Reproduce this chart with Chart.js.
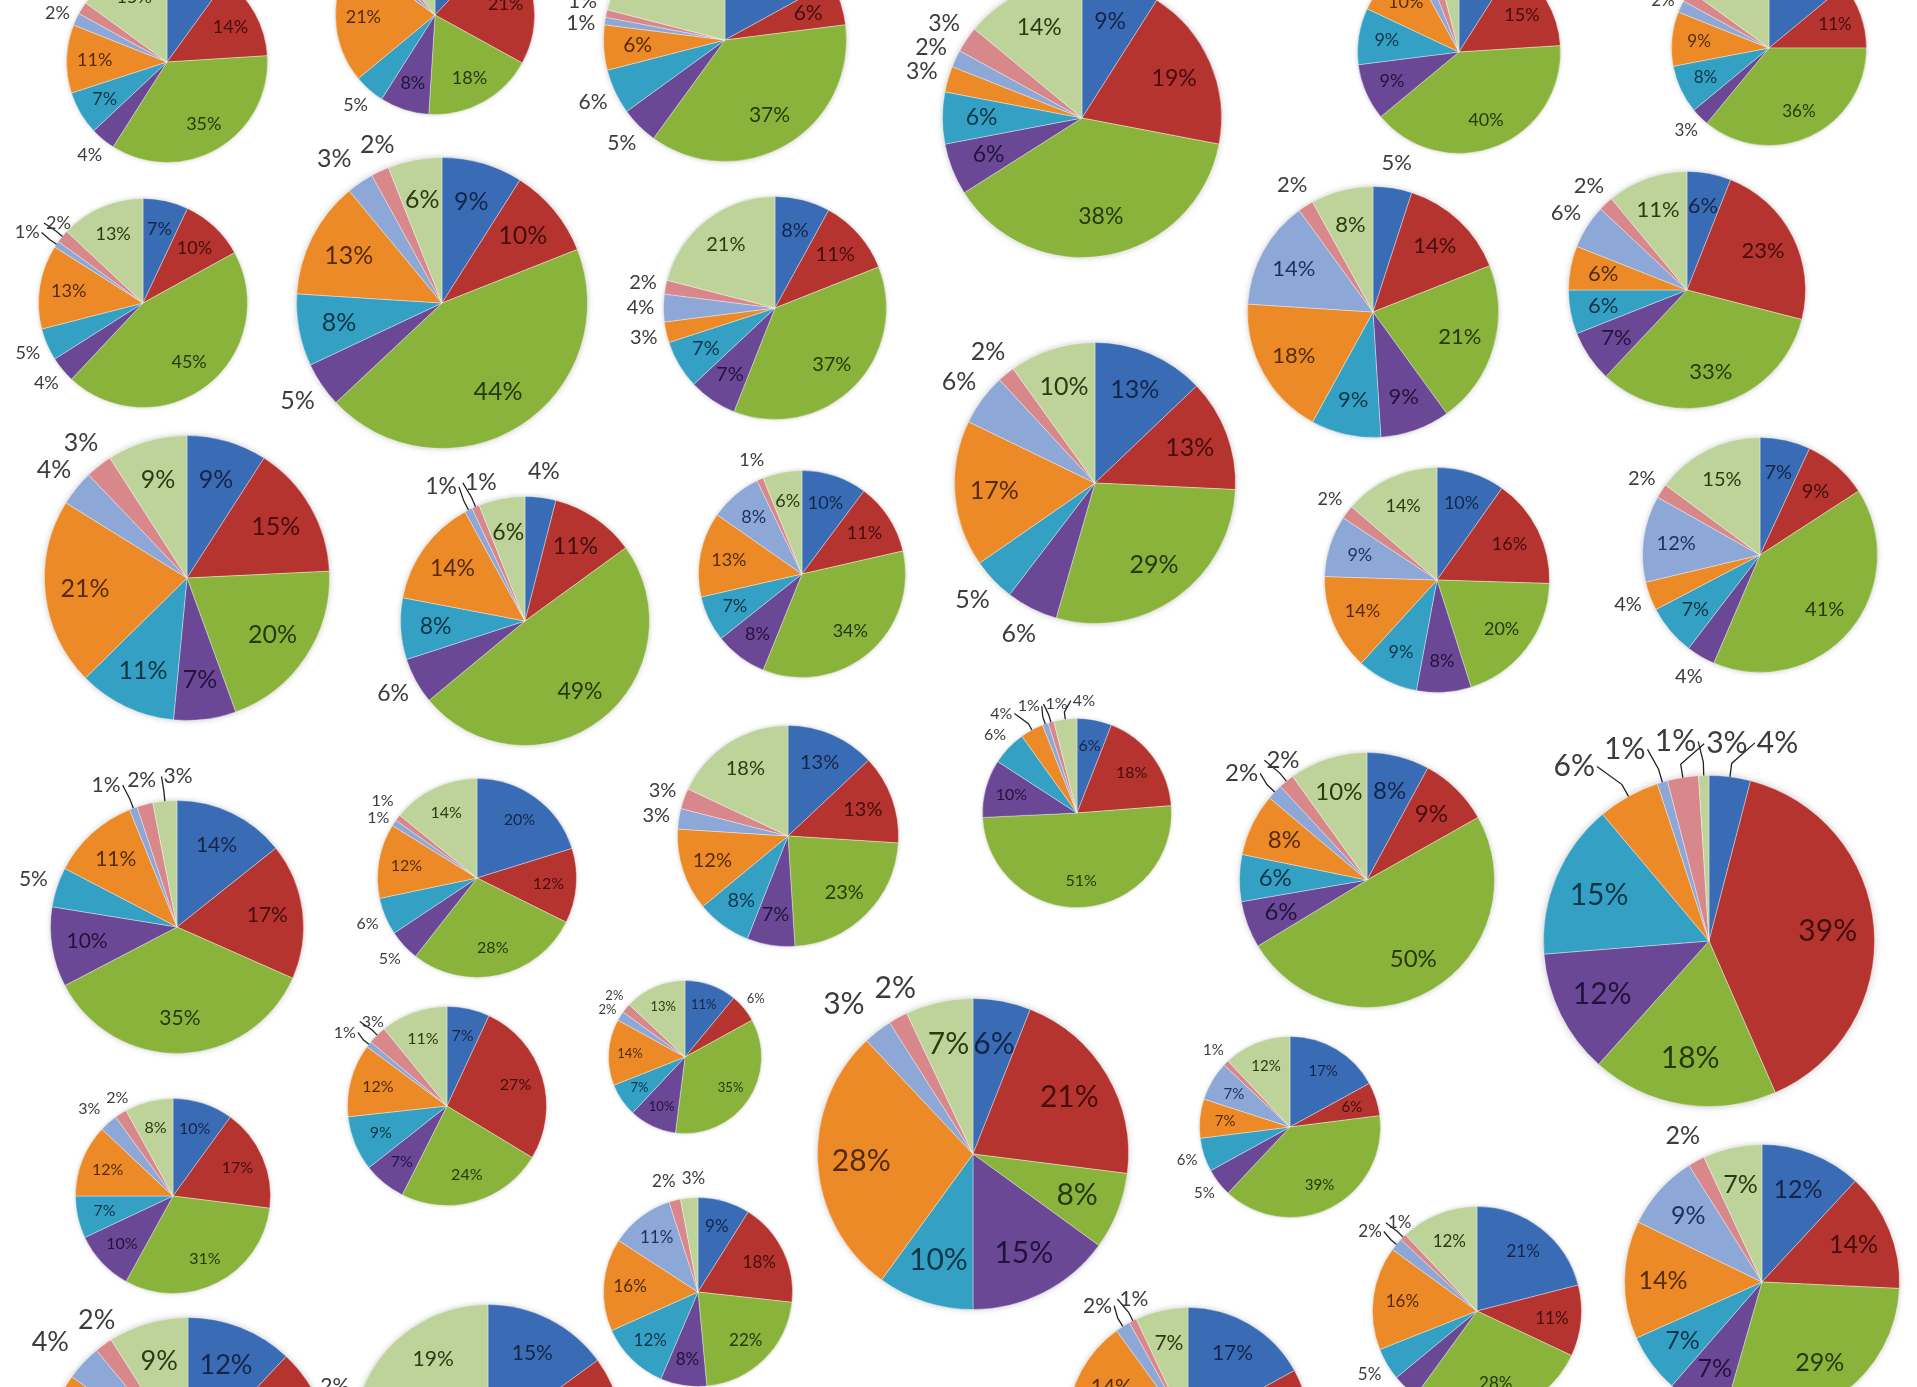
<!DOCTYPE html>
<html>
<head>
<meta charset="utf-8">
<script src="https://cdn.jsdelivr.net/npm/chart.js@4.4.0/dist/chart.umd.min.js"></script>
<style>
html, body { margin: 0; padding: 0; background: #fff; }
#board { position: relative; width: 1917px; height: 1387px; overflow: hidden; background: #fff; }
#board canvas { position: absolute; }
</style>
</head>
<body>
<div id="board"></div>
<script>
// slices, clockwise from 12 o'clock (same order in every pie)
const categories = ["Blue", "Red", "Green", "Purple", "Teal", "Orange", "Light blue", "Pink", "Light green"];

// shares in %, roughly row by row
const p01 = [10, 14, 35, 4, 7, 11, 2, 2, 15];
const p02 = [12, 21, 18, 8, 5, 21, 2, 2, 11];
const p03 = [17, 6, 37, 5, 6, 6, 1, 1, 21];
const p04 = [9, 19, 38, 6, 6, 3, 2, 3, 14];
const p05 = [9, 15, 40, 9, 9, 10, 2, 2, 4];
const p06 = [14, 11, 36, 3, 8, 9, 2, 2, 15];
const p07 = [7, 10, 45, 4, 5, 13, 1, 2, 13];
const p08 = [9, 10, 44, 5, 8, 13, 3, 2, 6];
const p09 = [8, 11, 37, 7, 7, 3, 4, 2, 21];
const p10 = [13, 13, 29, 6, 5, 17, 6, 2, 10];
const p11 = [5, 14, 21, 9, 9, 18, 14, 2, 8];
const p12 = [6, 23, 33, 7, 6, 6, 6, 2, 11];
const p13 = [9, 15, 20, 7, 11, 21, 4, 3, 9];
const p14 = [4, 11, 49, 6, 8, 14, 1, 1, 6];
const p15 = [10, 11, 34, 8, 7, 13, 8, 1, 6];
const p16 = [10, 16, 20, 8, 9, 14, 9, 2, 14];
const p17 = [7, 9, 41, 4, 7, 4, 12, 2, 15];
const p18 = [14, 17, 35, 10, 5, 11, 1, 2, 3];
const p19 = [20, 12, 28, 5, 6, 12, 1, 1, 14];
const p20 = [13, 13, 23, 7, 8, 12, 3, 3, 18];
const p21 = [6, 18, 51, 10, 6, 4, 1, 1, 4];
const p22 = [8, 9, 50, 6, 6, 8, 2, 2, 10];
const p23 = [4, 39, 18, 12, 15, 6, 1, 3, 1];
const p24 = [10, 17, 31, 10, 7, 12, 3, 2, 8];
const p25 = [7, 27, 24, 7, 9, 12, 1, 3, 11];
const p26 = [11, 6, 35, 10, 7, 14, 2, 2, 13];
const p27 = [6, 21, 8, 15, 10, 28, 3, 2, 7];
const p28 = [17, 6, 39, 5, 6, 7, 7, 1, 12];
const p29 = [12, 14, 29, 7, 7, 14, 9, 2, 7];
const p30 = [9, 18, 22, 8, 12, 16, 11, 2, 3];
const p31 = [21, 11, 28, 4, 5, 16, 2, 1, 12];
const p32 = [12, 15, 30, 8, 8, 12, 4, 2, 9];
const p33 = [15, 14, 25, 8, 6, 10, 1, 2, 19];
const p34 = [17, 12, 30, 8, 9, 14, 2, 1, 7];

const pies = [p01, p02, p03, p04, p05, p06, p07, p08, p09, p10, p11, p12, p13, p14, p15, p16, p17,
  p18, p19, p20, p21, p22, p23, p24, p25, p26, p27, p28, p29, p30, p31, p32, p33, p34];

// where each pie sits on the page: centre x, centre y, radius, label size, slices labelled outside
const spots = [
  [167, 62, 101, 18, [3, 6, 7]],
  [435, 15, 100, 18, [4, 6, 7]],
  [725, 40, 122, 21, [3, 4, 6, 7]],
  [1082, 118, 140, 23, [5, 6, 7]],
  [1459, 52, 102, 18, [6, 7]],
  [1769, 48, 98, 17, [3, 6, 7]],
  [143, 303, 105, 18, [3, 4, 6, 7]],
  [442, 303, 146, 25, [3, 6, 7]],
  [775, 308, 112, 20, [5, 6, 7]],
  [1095, 483, 141, 25, [3, 4, 6, 7]],
  [1373, 312, 126, 22, [0, 7]],
  [1687, 290, 119, 22, [6, 7]],
  [187, 578, 143, 25, [6, 7]],
  [525, 621, 125, 23, [0, 3, 6, 7]],
  [802, 574, 104, 18, [7]],
  [1437, 580, 113, 18, [7]],
  [1760, 555, 118, 20, [3, 5, 7]],
  [177, 927, 127, 21, [4, 6, 7, 8]],
  [477, 878, 100, 16, [3, 4, 6, 7]],
  [788, 836, 111, 20, [6, 7]],
  [1077, 813, 95, 16, [4, 5, 6, 7, 8]],
  [1367, 880, 128, 24, [6, 7]],
  [1709, 941, 166, 30, [0, 5, 6, 7, 8]],
  [173, 1196, 98, 16, [6, 7]],
  [447, 1106, 100, 16, [6, 7]],
  [685, 1057, 77, 13, [1, 6, 7]],
  [973, 1154, 156, 30, [6, 7]],
  [1290, 1127, 91, 15, [3, 4, 7]],
  [1762, 1282, 138, 25, [7]],
  [698, 1292, 95, 17, [7, 8]],
  [1477, 1311, 105, 17, [3, 4, 6, 7]],
  [188, 1461, 144, 27, [6, 7]],
  [488, 1440, 136, 21, [6, 7]],
  [1188, 1429, 122, 21, [6, 7]]
];

const sliceColors = ["#3a6cb5", "#b5342f", "#8ab33b", "#6b4896", "#34a1c4", "#ed8a28", "#8da8d7", "#d8878b", "#bed39a"];
const textColors = ["#13264a", "#450d0b", "#27390b", "#22133c", "#0c3648", "#552b05", "#1d2f5c", "#572022", "#2a3b12"];

// soft grey halo under every pie
const pieShadow = {
  id: "pieShadow",
  beforeDatasetsDraw(chart) {
    const arc = chart.getDatasetMeta(0).data[0];
    if (!arc) return;
    const p = arc.getProps(["x", "y", "outerRadius"], true);
    const ctx = chart.ctx;
    ctx.save();
    ctx.shadowColor = "rgba(0,0,0,0.3)";
    ctx.shadowBlur = Math.max(4, p.outerRadius * 0.05);
    ctx.fillStyle = "#fff";
    ctx.beginPath();
    ctx.arc(p.x, p.y, p.outerRadius - 1, 0, Math.PI * 2);
    ctx.fill();
    ctx.restore();
  }
};

// percentage labels: inside the slice, or outside with a leader when crowded
const pieLabels = {
  id: "pieLabels",
  afterDatasetsDraw(chart, args, opts) {
    const ctx = chart.ctx;
    const meta = chart.getDatasetMeta(0);
    const data = chart.data.datasets[0].data;
    const size = opts.size;
    ctx.save();
    ctx.font = size + "px Lato";
    ctx.textAlign = "center";
    ctx.textBaseline = "middle";
    const outside = [];
    meta.data.forEach((arc, i) => {
      const p = arc.getProps(["x", "y", "startAngle", "endAngle", "outerRadius"], true);
      const mid = (p.startAngle + p.endAngle) / 2;
      const txt = data[i] + "%";
      if (opts.outside.includes(i)) {
        const d = p.outerRadius * 1.08 + size * 0.7;
        const x = p.x + Math.cos(mid) * d, y = p.y + Math.sin(mid) * d;
        outside.push({ txt, mid, x, y, x0: x, y0: y, w: ctx.measureText(txt).width, h: size,
          cx: p.x, cy: p.y, r: p.outerRadius });
      } else {
        const d = p.outerRadius * 0.72;
        ctx.fillStyle = textColors[i];
        ctx.fillText(txt, p.x + Math.cos(mid) * d, p.y + Math.sin(mid) * d);
      }
    });

    // crowded labels near the top or bottom spread sideways, on the flanks they spread up/down
    for (let k = 0; k < 80; k++) {
      let moved = false;
      for (let a = 0; a < outside.length; a++) {
        for (let b = a + 1; b < outside.length; b++) {
          const A = outside[a], B = outside[b];
          const ox = (A.w + B.w) / 2 + size * 0.3 - Math.abs(A.x - B.x);
          const oy = (A.h + B.h) / 2 - Math.abs(A.y - B.y);
          if (ox > 0 && oy > 0) {
            moved = true;
            const avg = (A.mid + B.mid) / 2;
            if (Math.abs(Math.sin(avg)) > 0.6) {
              let dir = Math.sign(B.x - A.x);
              if (dir === 0) dir = Math.sin(avg) < 0 ? 1 : -1;
              const s = dir * (ox / 2 + 0.5);
              A.x -= s; B.x += s;
            } else {
              let dir = Math.sign(B.y - A.y);
              if (dir === 0) dir = Math.cos(avg) < 0 ? -1 : 1;
              const s = dir * (oy / 2 + 0.5);
              A.y -= s; B.y += s;
            }
          }
        }
      }
      if (!moved) break;
    }

    outside.forEach(L => {
      const shift = Math.hypot(L.x - L.x0, L.y - L.y0);
      if (shift > L.h * 0.5) {
        const ex = L.cx + Math.cos(L.mid) * L.r, ey = L.cy + Math.sin(L.mid) * L.r;
        const kx = L.cx + Math.cos(L.mid) * (L.r + L.h * 0.45), ky = L.cy + Math.sin(L.mid) * (L.r + L.h * 0.45);
        const sx = L.x + (kx < L.x ? -1 : 1) * (L.w / 2 + 2);
        ctx.strokeStyle = "#222";
        ctx.lineWidth = 1.3;
        ctx.beginPath();
        ctx.moveTo(ex, ey);
        ctx.lineTo(kx, ky);
        ctx.lineTo(sx, L.y);
        ctx.stroke();
      }
      ctx.fillStyle = "#3c3c3c";
      ctx.fillText(L.txt, L.x, L.y);
    });
    ctx.restore();
  }
};

const board = document.getElementById("board");

pies.forEach((shares, i) => {
  const [cx, cy, r, size, out] = spots[i];
  const m = Math.round(r * 0.5 + 30);
  const side = 2 * (r + m);
  const cv = document.createElement("canvas");
  cv.width = side;
  cv.height = side;
  cv.style.left = (cx - r - m) + "px";
  cv.style.top = (cy - r - m) + "px";
  board.appendChild(cv);

  new Chart(cv, {
    type: "pie",
    data: {
      labels: categories,
      datasets: [{
        data: shares,
        backgroundColor: sliceColors,
        borderColor: "rgba(255,255,255,0.35)",
        borderWidth: 1
      }]
    },
    options: {
      responsive: false,
      animation: false,
      layout: { padding: m },
      plugins: {
        legend: { display: false },
        tooltip: { enabled: false },
        pieLabels: { size: size, outside: out }
      }
    },
    plugins: [pieShadow, pieLabels]
  });
});
</script>
</body>
</html>
